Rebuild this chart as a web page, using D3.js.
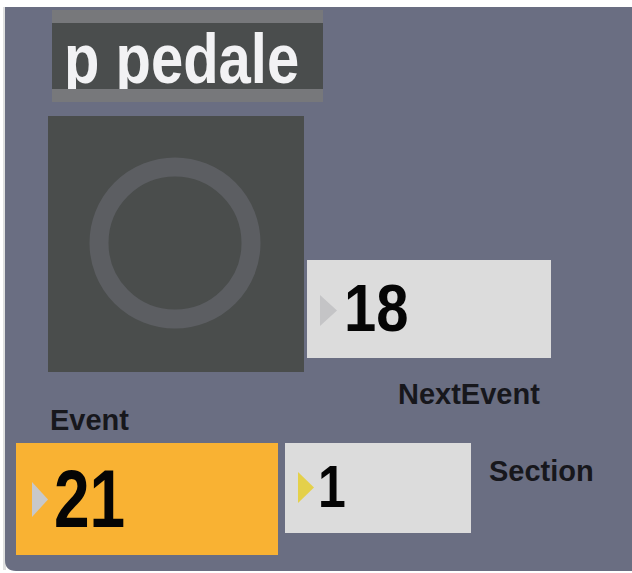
<!DOCTYPE html>
<html><head><meta charset="utf-8">
<script src="https://cdn.jsdelivr.net/npm/d3@7"></script>
<style>html,body{margin:0;padding:0;background:#fff;overflow:hidden}</style>
</head><body>
<svg id="c" width="632" height="573"></svg>
<script>
const title = "p pedale";
const labels = ["NextEvent", "Event", "Section"];
const values = [18, 21, 1];

const svg = d3.select("#c");
const font = "'Liberation Sans', Arial, Helvetica, sans-serif";

// panel
svg.append("rect").attr("x", 3).attr("y", 7).attr("width", 3).attr("height", 563).attr("fill", "#dfe0e0");
svg.append("path")
  .attr("d", "M5,7 H632 V571 H16 Q5,571 5,560 Z")
  .attr("fill", "#6a6e82");

// title box
const defs = svg.append("defs");
defs.append("clipPath").attr("id", "tclip").append("rect")
  .attr("x", 52).attr("y", 23).attr("width", 271).attr("height", 66);
svg.append("rect").attr("x", 52).attr("y", 10).attr("width", 271).attr("height", 92).attr("fill", "#77787b");
svg.append("rect").attr("x", 52).attr("y", 23).attr("width", 271).attr("height", 66).attr("fill", "#4a4d4d");
svg.append("g").attr("clip-path", "url(#tclip)")
  .append("text").attr("transform", "translate(64,83) scale(1,1.2)").text(title)
  .attr("font-family", font).attr("font-weight", "bold").attr("font-size", 58).attr("fill", "#f2f2f4");

// dial square
svg.append("rect").attr("x", 48).attr("y", 116).attr("width", 256).attr("height", 256).attr("fill", "#4a4d4c");
svg.append("circle").attr("cx", 175).attr("cy", 243).attr("r", 76)
  .attr("fill", "none").attr("stroke", "#5c5e62").attr("stroke-width", 19);

// number boxes
const boxes = [
  {x: 307, y: 260, w: 244, h: 98, fill: "#dcdcdc", tri: "#c4c4c6", tx: 320, ty1: 295, ty2: 326, tw: 17,
   nx: 344, ny: 331, fs: 58, sy: 1.15, lx: 398, ly: 404},
  {x: 16, y: 443, w: 262, h: 112, fill: "#f9b233", tri: "#c8c8ca", tx: 32, ty1: 482, ty2: 517, tw: 16,
   nx: 54, ny: 527, fs: 64, sy: 1.27, lx: 50, ly: 430},
  {x: 285, y: 443, w: 186, h: 90, fill: "#dcdcdc", tri: "#e4d04a", tx: 298, ty1: 472, ty2: 503, tw: 16,
   nx: 318, ny: 507, fs: 50, sy: 1.2, lx: 489, ly: 481}
];

const g = svg.selectAll("g.nb").data(boxes).join("g").attr("class", "nb");
g.append("rect").attr("x", d => d.x).attr("y", d => d.y).attr("width", d => d.w).attr("height", d => d.h)
  .attr("fill", d => d.fill);
g.append("path")
  .attr("d", d => `M${d.tx},${d.ty1} L${d.tx + d.tw},${(d.ty1 + d.ty2) / 2} L${d.tx},${d.ty2} Z`)
  .attr("fill", d => d.tri);
g.append("text").attr("transform", d => `translate(${d.nx},${d.ny}) scale(1,${d.sy})`).text((d, i) => values[i])
  .attr("font-family", font).attr("font-weight", "bold").attr("font-size", d => d.fs).attr("fill", "#050505");
g.append("text").attr("x", d => d.lx).attr("y", d => d.ly).text((d, i) => labels[i])
  .attr("font-family", font).attr("font-weight", "bold").attr("font-size", 29).attr("fill", "#17171c");
</script>
</body></html>
